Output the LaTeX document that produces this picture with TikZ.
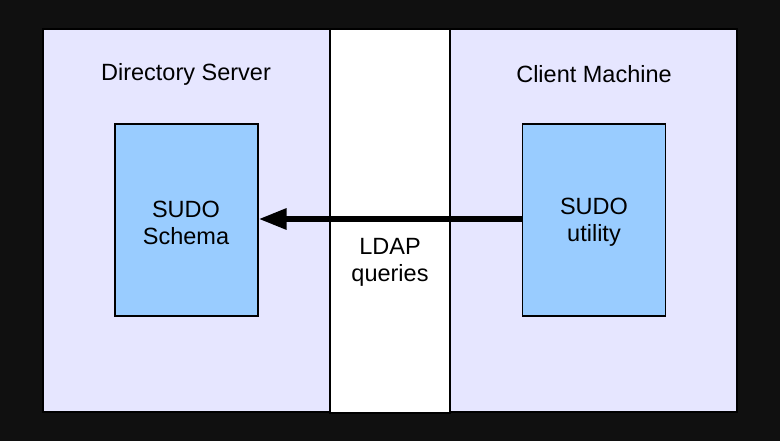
\documentclass[tikz,border=0pt]{standalone}
\usepackage{fontspec}
\setmainfont{Liberation Sans}
\usetikzlibrary{arrows.meta}
\definecolor{bgdark}{HTML}{101010}
\definecolor{lav}{HTML}{E6E6FF}
\definecolor{skyb}{HTML}{99CCFF}
\tikzset{
  panel/.style={draw=black, line width=1.2pt, fill=lav},
  gap/.style={draw=black, line width=1.2pt, fill=white},
  inner/.style={draw=black, line width=1.2pt, fill=skyb, minimum width=143pt, minimum height=192pt, inner sep=0pt},
  lbl/.style={font=\fontsize{23.5}{27}\selectfont, align=center, text=black, inner sep=0pt},
  bigarrow/.style={line width=6pt, -{Triangle[length=28pt, width=20pt]}, shorten >=0pt}
}
\begin{document}
\begin{tikzpicture}[x=1pt,y=-1pt]
\fill[bgdark] (0,0) rectangle (780,441);
\useasboundingbox (0,0) rectangle (780,441);
\path[panel] (43,29) rectangle (330,412);
\path[panel] (450,29) rectangle (737,412);
\path[gap] (330,29) rectangle (450,413);
\node[lbl] (ds) at (186,74) {Directory Server};
\node[lbl] (cm) at (594,74) {Client Machine};
\node[inner] (schema) at (186.5,220) {};
\node[inner] (util) at (594,220) {};
\node[lbl] at (186,222.5) {SUDO\\Schema};
\node[lbl] at (594,222.5) {SUDO\\utility};
\node[lbl] (ldap) at (390,262) {LDAP\\queries};
\draw[bigarrow] (util.west |- 0,219) -- (schema.east |- 0,219);
\end{tikzpicture}
\end{document}
